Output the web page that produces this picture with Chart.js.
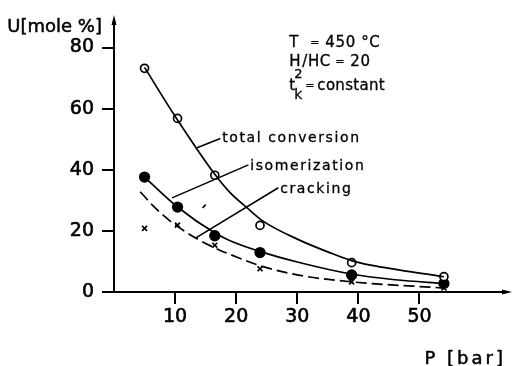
<!DOCTYPE html>
<html>
<head>
<meta charset="utf-8">
<script src="https://cdn.jsdelivr.net/npm/chart.js@4/dist/chart.umd.min.js"></script>
<style>
  html, body { margin: 0; padding: 0; background: #fff; }
  canvas { display: block; }
</style>
</head>
<body>
<canvas id="chart" width="514" height="366"></canvas>
<script>
// Measured yields U [mole %] versus pressure P [bar]
const pressure        = [5, 10.4, 16.5, 23.9, 38.9, 54];
const totalConversion = [73.2, 56.8, 38.2, 21.8, 9.6, 5.0];
const isomerization   = [37.6, 27.8, 18.4, 12.9, 5.6, 2.8];
const cracking        = [20.8, 21.9, 15.3, 7.6, 3.3, 1.3];

// Hand-drawn trend curves through the measurements
const totalCurveP = [5, 10, 16.5, 19, 21.8, 24.4, 30, 35.4, 39, 42, 54];
const totalCurveU = [73.5, 57.5, 38.5, 32.5, 27.5, 23.2, 17.3, 12.8, 10.2, 8.8, 5];
const isomCurveP  = [5, 10.4, 16.6, 19, 24, 30, 39, 46, 54];
const isomCurveU  = [37.6, 27.8, 19.2, 16.8, 13.2, 9.8, 5.8, 4, 2.8];
const crackCurveP = [4.3, 6.4, 9.2, 10.5, 13.6, 17.4, 19, 23.6, 30, 39, 54];
const crackCurveU = [32.8, 28.2, 23.2, 21.3, 17.4, 13.6, 12.3, 8.8, 5.6, 3.3, 1.3];

// Axis ticks
const xTicks = [10, 20, 30, 40, 50];
const yTicks = [0, 20, 40, 60, 80];

const pts = (xs, ys) => xs.map((v, i) => ({ x: v, y: ys[i] }));
const FONT = '"DejaVu Sans", sans-serif';

const curve = (xs, ys, dash) => ({
  data: pts(xs, ys), showLine: true, pointRadius: 0, borderColor: '#000',
  borderWidth: 1.7, borderDash: dash || [], cubicInterpolationMode: 'monotone'
});
const marks = (ys, style, fill, r) => ({
  data: pts(pressure, ys), showLine: false, pointStyle: style, pointRadius: r,
  pointBackgroundColor: fill, pointBorderColor: '#000', pointBorderWidth: 1.7
});

// Labels, leader lines and notes placed in data coordinates
const labels = [
  { text: 'total conversion', x: 17.7, y: 49.2 },
  { text: 'isomerization',    x: 22.3, y: 40.0 },
  { text: 'cracking',         x: 27.2, y: 32.5 }
];
const leaders = [
  [13.6, 47.2, 17.4, 50.2],
  [9.5, 30.8, 22.0, 41.6],
  [13.4, 17.7, 26.9, 34.1],
  [14.5, 27.5, 15.0, 28.6]
];

// text with a thin outline so the strokes read a little heavier
function ink(ctx, s, x, y, w) {
  ctx.lineWidth = w;
  ctx.strokeText(s, x, y);
  ctx.fillText(s, x, y);
}

const decorations = {
  id: 'decorations',
  afterDraw(chart) {
    const { ctx, chartArea: a, scales: { x, y } } = chart;
    const px = v => x.getPixelForValue(v);
    const py = v => y.getPixelForValue(v);
    ctx.save();
    ctx.fillStyle = '#000';
    ctx.strokeStyle = '#000';

    // axis arrowheads
    ctx.beginPath();
    ctx.moveTo(a.left, a.top - 5);
    ctx.lineTo(a.left - 2.5, a.top + 5);
    ctx.lineTo(a.left + 2.5, a.top + 5);
    ctx.closePath(); ctx.fill();
    ctx.beginPath();
    ctx.moveTo(a.right + 7, a.bottom);
    ctx.lineTo(a.right - 3, a.bottom - 2.5);
    ctx.lineTo(a.right - 3, a.bottom + 2.5);
    ctx.closePath(); ctx.fill();

    // leader lines
    ctx.lineWidth = 1.6;
    leaders.forEach(([x1, y1, x2, y2]) => {
      ctx.beginPath();
      ctx.moveTo(px(x1), py(y1));
      ctx.lineTo(px(x2), py(y2));
      ctx.stroke();
    });

    // curve labels
    ctx.lineJoin = 'round';
    ctx.font = '14px ' + FONT;
    ctx.textBaseline = 'alphabetic';
    ctx.textAlign = 'left';
    ctx.letterSpacing = '1.6px';
    labels.forEach(l => ink(ctx, l.text, px(l.x), py(l.y), 0.3));

    // operating conditions
    const cx = px(28.7);
    const w = 0.3;
    ctx.font = '15px ' + FONT;
    ctx.letterSpacing = '0.6px';
    const b1 = py(80.3), b2 = py(73.8), b3 = py(66.2);
    ink(ctx, 'T', cx, b1, w);
    ctx.font = '11px ' + FONT;
    ink(ctx, '=', cx + 21, b1 - 1, w);
    ctx.font = '15px ' + FONT;
    ink(ctx, '450 °C', cx + 36, b1, w);
    ink(ctx, 'H', cx, b2, w);
    ctx.font = '13px ' + FONT;
    ink(ctx, '2', cx + 5, b2 + 12, w);
    ctx.font = '15px ' + FONT;
    ink(ctx, '/HC', cx + 13, b2, w);
    ctx.font = '11px ' + FONT;
    ink(ctx, '=', cx + 46, b2 - 1, w);
    ctx.font = '15px ' + FONT;
    ink(ctx, '20', cx + 61, b2, w);
    ink(ctx, 't', cx, b3, w);
    ctx.font = '14px ' + FONT;
    ink(ctx, 'k', cx + 5, b3 + 9, w);
    ctx.font = '11px ' + FONT;
    ink(ctx, '=', cx + 16, b3 - 1, w);
    ctx.font = '15px ' + FONT;
    ctx.letterSpacing = '0.3px';
    ink(ctx, 'constant', cx + 28, b3, w);

    // axis titles
    ctx.font = '18px ' + FONT;
    ctx.letterSpacing = '0px';
    ctx.textAlign = 'right';
    ctx.textBaseline = 'middle';
    ink(ctx, 'U[mole %]', a.left - 12, 27, 0.5);
    ctx.letterSpacing = '3px';
    ctx.textBaseline = 'alphabetic';
    ink(ctx, 'P [bar]', a.right + 1, a.bottom + 72, 0.5);
    ctx.restore();
  }
};

new Chart(document.getElementById('chart'), {
  type: 'scatter',
  data: {
    datasets: [
      curve(totalCurveP, totalCurveU),
      curve(isomCurveP, isomCurveU),
      curve(crackCurveP, crackCurveU, [11, 5]),
      marks(totalConversion, 'circle', '#fff', 4),
      marks(isomerization, 'circle', '#000', 4.8),
      marks(cracking, 'crossRot', '#000', 3.5)
    ]
  },
  options: {
    responsive: false,
    animation: false,
    devicePixelRatio: 1,
    layout: { padding: { top: 20, right: 9, left: 0, bottom: 0 } },
    plugins: { legend: { display: false }, tooltip: { enabled: false } },
    scales: {
      x: {
        type: 'linear', min: 0, max: 64,
        afterFit: s => { s.height = 74; },
        afterBuildTicks: s => { s.ticks = xTicks.map(v => ({ value: v })); },
        grid: { drawOnChartArea: false, drawTicks: true, tickLength: 12, lineWidth: 2, color: '#000' },
        border: { display: true, width: 2, color: '#000' },
        ticks: { color: '#000', font: { family: FONT, size: 19 }, padding: 2, maxRotation: 0,
                 textStrokeColor: '#000', textStrokeWidth: 0.6 }
      },
      y: {
        type: 'linear', min: 0, max: 89,
        afterFit: s => { s.width = 114; },
        afterBuildTicks: s => { s.ticks = yTicks.map(v => ({ value: v })); },
        grid: { drawOnChartArea: false, drawTicks: true, tickLength: 12, lineWidth: 2, color: '#000' },
        border: { display: true, width: 2, color: '#000' },
        ticks: { color: '#000', font: { family: FONT, size: 19 }, padding: 8,
                 textStrokeColor: '#000', textStrokeWidth: 0.6 }
      }
    }
  },
  plugins: [decorations]
});
</script>
</body>
</html>
